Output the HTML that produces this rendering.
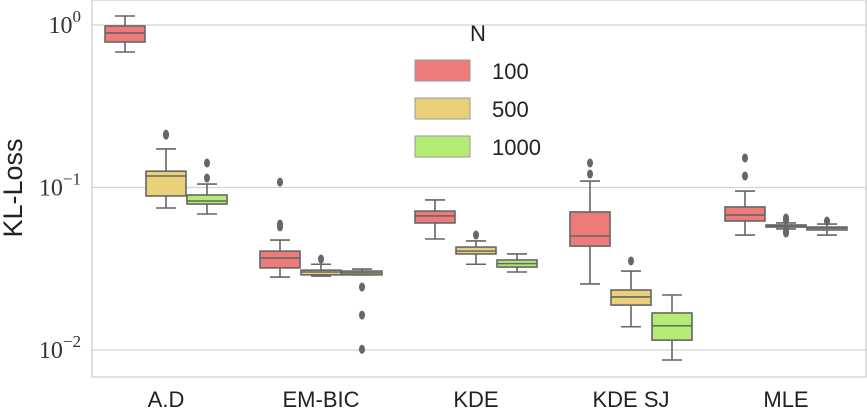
<!DOCTYPE html>
<html><head><meta charset="utf-8"><style>
html,body{margin:0;padding:0;background:#fff;width:867px;height:411px;overflow:hidden}
svg text{font-family:"Liberation Sans",sans-serif}
</style></head><body>
<svg id="chart" width="867" height="411" xmlns="http://www.w3.org/2000/svg"></svg>
<script>
const categories=["A.D","EM-BIC","KDE","KDE SJ","MLE"];
const seriesNames=["100","500","1000"];
const seriesColors=["#ee7a7a","#ebd07a","#b4ec73"];
// each box: [whiskerLow, q1, median, q3, whiskerHigh]
const boxes100=[[0.682,0.786,0.893,0.986,1.136],[0.0281,0.032,0.0368,0.0406,0.0475],[0.0482,0.0605,0.0668,0.0716,0.0838],[0.0255,0.0436,0.0503,0.0707,0.1096],[0.051,0.0622,0.0677,0.0759,0.0951]];
const boxes500=[[0.0748,0.0887,0.1177,0.126,0.1726],[0.0285,0.029,0.0302,0.031,0.0337],[0.0337,0.039,0.0406,0.043,0.0469],[0.0139,0.0189,0.0212,0.0234,0.0306],[0.0556,0.0571,0.058,0.0588,0.0605]];
const boxes1000=[[0.0687,0.0791,0.0826,0.0899,0.105],[0.029,0.029,0.0298,0.0306,0.0315],[0.0302,0.0324,0.034,0.0358,0.039],[0.00868,0.0115,0.0141,0.0169,0.0218],[0.051,0.0548,0.0563,0.0571,0.0596]];
const outliers100=[[],[0.108,0.0596,0.0572],[],[0.1415,0.121],[0.152,0.1177]];
const outliers500=[[0.21,0.213],[0.0363],[0.051],[0.0353],[0.0649,0.063,0.054,0.0525]];
const outliers1000=[[0.1415,0.1144],[0.0244,0.0164,0.0101],[],[],[0.0622]];
const yTickExps=[0,-1,-2];

const svg=document.getElementById('chart');
const NS="http://www.w3.org/2000/svg";
const L=92,R=866,T=0,B=377;
function y(v){return 25-162.5*Math.log10(v);}
function xc(i){return 166+155*i;}
function mk(tag,attrs,parent){const e=document.createElementNS(NS,tag);for(const k in attrs)e.setAttribute(k,attrs[k]);(parent||svg).appendChild(e);return e;}

yTickExps.forEach(function(p){
  const g=mk('line',{x1:L,x2:R,y1:y(Math.pow(10,p)),y2:y(Math.pow(10,p)),stroke:'#d4d4d4','stroke-width':1.3});
  
  
  const t=mk('text',{x:81,y:y(Math.pow(10,p))+8,'text-anchor':'end','font-size':'24','fill':'#333'});
  t.setAttribute('style','font-family:"Liberation Serif",serif');
  
  
  t.textContent='10';
  const s=document.createElementNS(NS,'tspan');s.setAttribute('dy','-11');s.setAttribute('font-size','17');s.textContent=(p<0?'\u2212':'')+Math.abs(p);t.appendChild(s);
});
const fr=mk('rect',{x:L,y:T,width:R-L,height:B-T,fill:'none',stroke:'#cfcfcf','stroke-width':1.3});



const allBoxes=[boxes100,boxes500,boxes1000];
const allOut=[outliers100,outliers500,outliers1000];
const W=41;
categories.forEach(function(c,i){
  for(let s=0;s<3;s++){
    const b=allBoxes[s][i];const cx=xc(i)+(s-1)*W;
    const g=mk('g',{});
    
    
    const st={stroke:'#666','stroke-width':1.6};
    mk('line',Object.assign({x1:cx,x2:cx,y1:y(b[0]),y2:y(b[1])},st),g);
    mk('line',Object.assign({x1:cx,x2:cx,y1:y(b[3]),y2:y(b[4])},st),g);
    mk('line',Object.assign({x1:cx-10,x2:cx+10,y1:y(b[0]),y2:y(b[0])},st),g);
    mk('line',Object.assign({x1:cx-10,x2:cx+10,y1:y(b[4]),y2:y(b[4])},st),g);
    mk('rect',Object.assign({x:cx-W/2+0.5,y:y(b[3]),width:W-1,height:Math.max(1,y(b[1])-y(b[3])),fill:seriesColors[s]},st),g);
    mk('line',Object.assign({x1:cx-W/2+0.5,x2:cx+W/2-0.5,y1:y(b[2]),y2:y(b[2])},st),g);
    allOut[s][i].forEach(function(o){
      const d=mk('ellipse',{cx:cx,cy:y(o),rx:3,ry:4.5,fill:'#666'},g);
      
      
    });
  }
  const t=mk('text',{x:xc(i),y:407,'text-anchor':'middle','font-size':'22','fill':'#222'});
  
  
  t.textContent=c;
});
const yl=mk('text',{x:0,y:0,transform:'translate(22,188) rotate(-90)','text-anchor':'middle','font-size':'27','fill':'#222'});


yl.textContent='KL-Loss';
const lg=mk('g',{});


const lt=mk('text',{x:478,y:41,'text-anchor':'middle','font-size':'22','fill':'#222'},lg);


lt.textContent='N';
seriesNames.forEach(function(n,s){
  const yy=60+s*38;
  const r=mk('rect',{x:415,y:yy,width:55,height:21,fill:seriesColors[s],stroke:'#999','stroke-width':1},lg);
  
  
  const t=mk('text',{x:492,y:yy+19,'font-size':'22','fill':'#222'},lg);
  
  
  t.textContent=n;
});
</script>
</body></html>
